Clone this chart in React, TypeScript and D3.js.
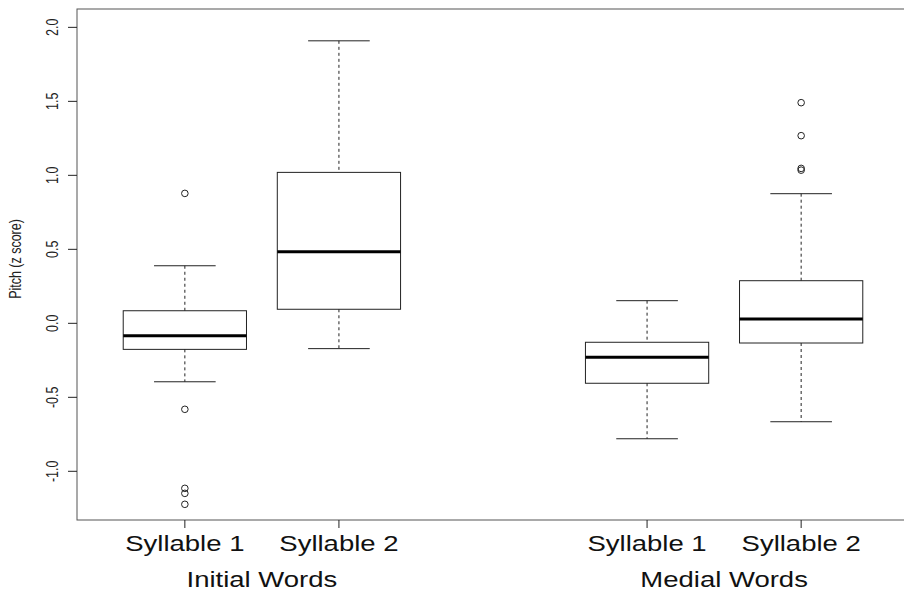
import React from "react";
import * as d3 from "d3";

const WIDTH = 904;
const HEIGHT = 590;

// groups of boxes, each group has two syllables
const groupLabels = ["Initial Words", "Medial Words"];
const groupCenters = [1.5, 4.5];
const boxLabels = ["Syllable 1", "Syllable 2", "Syllable 1", "Syllable 2"];
const boxPositions = [1, 2, 4, 5];

// box statistics (z scores)
const lowerWhisker = [-0.395, -0.171, -0.78, -0.665];
const lowerQuartile = [-0.176, 0.095, -0.405, -0.133];
const medians = [-0.084, 0.484, -0.23, 0.029];
const upperQuartile = [0.085, 1.02, -0.128, 0.288];
const upperWhisker = [0.389, 1.909, 0.153, 0.876];
const outliers = [
  [0.878, -0.581, -1.115, -1.149, -1.223],
  [],
  [],
  [1.491, 1.268, 1.047, 1.035],
];

const yTicks = [-1.0, -0.5, 0.0, 0.5, 1.0, 1.5, 2.0];

const FONT = "'Liberation Sans', Arial, Helvetica, sans-serif";
const STRETCH = 1.25; // the picture is a little wider than tall

function App() {
  const plot = { left: 77, right: 909, top: 9, bottom: 520 };

  const x = d3.scaleLinear().domain([0.3, 5.7]).range([plot.left, plot.right]);
  const y = d3.scaleLinear().domain([-1.329, 2.124]).range([plot.bottom, plot.top]);

  const boxWidth = x(0.8) - x(0);
  const capWidth = boxWidth / 2;
  const ink = "#222";

  return (
    <svg
      width={WIDTH}
      height={HEIGHT}
      style={{ position: "absolute", left: 0, top: 0, background: "#fff" }}
    >
      <rect width={WIDTH} height={HEIGHT} fill="#fff" />

      {boxPositions.map((p, i) => {
        const cx = x(p);
        return (
          <g key={i}>
            {/* whiskers */}
            <line x1={cx} x2={cx} y1={y(upperWhisker[i])} y2={y(upperQuartile[i])}
              stroke={ink} strokeWidth={1} strokeDasharray="3,3" />
            <line x1={cx} x2={cx} y1={y(lowerQuartile[i])} y2={y(lowerWhisker[i])}
              stroke={ink} strokeWidth={1} strokeDasharray="3,3" />
            <line x1={cx - capWidth / 2} x2={cx + capWidth / 2}
              y1={y(upperWhisker[i])} y2={y(upperWhisker[i])} stroke={ink} strokeWidth={1} />
            <line x1={cx - capWidth / 2} x2={cx + capWidth / 2}
              y1={y(lowerWhisker[i])} y2={y(lowerWhisker[i])} stroke={ink} strokeWidth={1} />
            {/* box */}
            <rect x={cx - boxWidth / 2} y={y(upperQuartile[i])} width={boxWidth}
              height={y(lowerQuartile[i]) - y(upperQuartile[i])}
              fill="none" stroke={ink} strokeWidth={1} />
            <line x1={cx - boxWidth / 2} x2={cx + boxWidth / 2}
              y1={y(medians[i])} y2={y(medians[i])} stroke="#000" strokeWidth={3} />
            {outliers[i].map((v, j) => (
              <circle key={j} cx={cx} cy={y(v)} r={3.3} fill="none" stroke={ink} strokeWidth={1} />
            ))}
          </g>
        );
      })}

      {/* frame */}
      <rect x={plot.left} y={plot.top} width={plot.right - plot.left}
        height={plot.bottom - plot.top} fill="none" stroke="#555" strokeWidth={1} />

      {/* y axis */}
      {yTicks.map((t) => (
        <g key={t}>
          <line x1={plot.left - 9} x2={plot.left} y1={y(t)} y2={y(t)} stroke={ink} strokeWidth={1} />
          <text
            transform={`translate(58,${y(t)}) scale(${STRETCH},1) rotate(-90)`}
            textAnchor="middle" fontFamily={FONT} fontSize={12.5} fill="#222"
          >
            {t.toFixed(1)}
          </text>
        </g>
      ))}
      <text
        transform={`translate(21,259) scale(${STRETCH},1) rotate(-90)`}
        textAnchor="middle" fontFamily={FONT} fontSize={12.5} fill="#222"
      >
        Pitch (z score)
      </text>

      {/* x axis */}
      {boxPositions.map((p, i) => (
        <g key={i}>
          <line x1={x(p)} x2={x(p)} y1={plot.bottom} y2={plot.bottom + 8} stroke={ink} strokeWidth={1} />
          <text
            transform={`translate(${x(p)},551) scale(${STRETCH},1)`}
            textAnchor="middle" fontFamily={FONT} fontSize={22} fill="#111"
          >
            {boxLabels[i]}
          </text>
        </g>
      ))}
      {groupLabels.map((g, i) => (
        <text key={g}
          transform={`translate(${x(groupCenters[i])},587) scale(${STRETCH},1)`}
          textAnchor="middle" fontFamily={FONT} fontSize={22} fill="#111"
        >
          {g}
        </text>
      ))}
    </svg>
  );
}

export default App;
